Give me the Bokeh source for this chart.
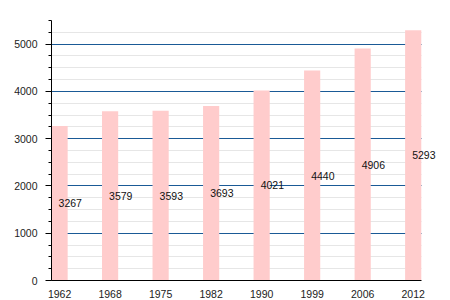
from bokeh.plotting import figure
from bokeh.models import ColumnDataSource, FixedTicker, SingleIntervalTicker, Range1d
from bokeh.core.properties import value
from bokeh.embed import file_html
from bokeh.resources import INLINE

years = ["1962", "1968", "1975", "1982", "1990", "1999", "2006", "2012"]
population = [3267, 3579, 3593, 3693, 4021, 4440, 4906, 5293]

xs = list(range(len(years)))
src = ColumnDataSource(dict(
    x=xs,
    top=population,
    ymid=[v / 2 for v in population],
    label=[str(v) for v in population],
))

x_lo, x_hi = -0.16, len(years) - 1 + 0.16
p = figure(width=450, height=300, output_backend="svg", toolbar_location=None,
           x_range=Range1d(x_lo, x_hi + 0.44), y_range=Range1d(0, 5500),
           min_border_left=51, min_border_right=7, min_border_top=20, min_border_bottom=20)
p.outline_line_color = None
p.background_fill_color = "white"

p.vbar(x="x", top="top", width=0.32, bottom=0, source=src,
       fill_color="#ffcccc", line_color=None)
p.text(x="x", y="ymid", text="label", source=src, text_align="left",
       text_baseline="alphabetic", text_font=value("Liberation Sans"),
       text_font_size="10.5px", text_color="#111111", x_offset=-1)

# x axis
p.xaxis.ticker = FixedTicker(ticks=xs)
p.xaxis.major_label_overrides = {i: y for i, y in enumerate(years)}
p.xaxis.major_tick_line_color = None
p.xaxis.minor_tick_line_color = None
p.xaxis.major_label_standoff = 3
p.xaxis.axis_line_color = "black"
p.xaxis.bounds = (x_lo, x_hi)
p.xgrid.grid_line_color = None

# y axis
p.yaxis.ticker = SingleIntervalTicker(interval=1000, num_minor_ticks=4)
p.yaxis.major_tick_in = 0
p.yaxis.major_tick_out = 6
p.yaxis.minor_tick_in = 0
p.yaxis.minor_tick_out = 3
p.yaxis.major_tick_line_color = "black"
p.yaxis.minor_tick_line_color = "black"
p.yaxis.axis_line_color = "black"
p.yaxis.major_label_standoff = 8

for ax in (p.xaxis, p.yaxis):
    ax.major_label_text_font = "Liberation Sans"
    ax.major_label_text_font_size = "10.5px"
    ax.major_label_text_color = "#222222"

p.ygrid.grid_line_color = "#1a5a96"
p.ygrid.grid_line_width = 1
p.ygrid.minor_grid_line_color = "#e6e6e6"
p.ygrid.cross_bounds = (x_lo, x_hi)

open("out.html", "w").write(file_html(p, INLINE))
